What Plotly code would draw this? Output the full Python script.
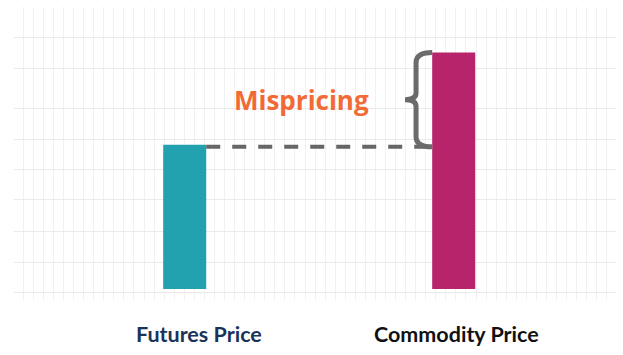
import plotly.graph_objects as go

# ---- data ----
categories = ["Futures Price", "Commodity Price"]
positions = [0, 1]
prices = [61, 100]
bar_colors = ["#22A2AF", "#B8246B"]
label_colors = ["#1B3358", "#111111"]
label_shift = [14, 3]
grid_rows = [119.0, 106.2, 93.1, 76.2, 63.1, 50.4, 37.7, 24.5, 11.4, -1.3]
gap_label = "Mispricing"

futures_price, commodity_price = prices
bar_w = 0.16
half = bar_w / 2
level = futures_price - 0.85
mid = (commodity_price + level) / 2

fig = go.Figure()
fig.add_trace(go.Bar(x=positions, y=prices, width=bar_w,
                     marker=dict(color=bar_colors, line=dict(width=0)),
                     hoverinfo="skip"))

# dashed connector from futures bar to commodity bar
fig.add_trace(go.Scatter(x=[positions[0] + half, positions[1] - half], y=[level, level],
                         mode="lines",
                         line=dict(color="#666666", width=4, dash="14px,12px"),
                         hoverinfo="skip"))

# curly brace between the two levels, next to the commodity bar
xt = positions[1] - half          # tips
xs = positions[1] - 0.14          # spine
xm = positions[1] - 0.181         # middle point
top = commodity_price
r = 4.3
path = (f"M {xt},{top} Q {xs},{top} {xs},{top - r} "
        f"L {xs},{mid + 2.8} Q {xs},{mid} {xm},{mid} "
        f"Q {xs},{mid} {xs},{mid - 2.8} "
        f"L {xs},{level + r} Q {xs},{level} {xt},{level}")
fig.add_shape(type="path", path=path, xref="x", yref="y",
              line=dict(color="#6B6B6B", width=5))

fig.add_annotation(x=0.436, y=mid, xref="x", yref="y", text=f"<b>{gap_label}</b>",
                   showarrow=False, font=dict(family="Open Sans", size=26, color="#F26A36"),
                   xanchor="center", yanchor="middle")

for p, name, col, sh in zip(positions, categories, label_colors, label_shift):
    fig.add_annotation(x=p, y=-0.116, xref="x", yref="paper", text=f"<b>{name}</b>",
                       showarrow=False, xshift=sh,
                       font=dict(family="Lato", size=21.5, color=col),
                       xanchor="center", yanchor="middle")

fig.update_layout(
    width=623, height=355,
    margin=dict(l=14, r=7, t=7, b=55),
    paper_bgcolor="white", plot_bgcolor="white",
    showlegend=False,
    xaxis=dict(range=[-0.6346, 1.6033], showticklabels=False, zeroline=False,
               showline=False, ticks="", tick0=-0.6, dtick=0.0374,
               showgrid=True, gridcolor="#F1F1F1", gridwidth=1, fixedrange=True),
    yaxis=dict(range=[-4.65, 119.3], showticklabels=False, zeroline=False,
               showline=False, ticks="", tickmode="array", tickvals=grid_rows,
               showgrid=True, gridcolor="#EAEAEA", gridwidth=1, fixedrange=True),
)

fig.write_html("out.html", config=dict(displayModeBar=False))
